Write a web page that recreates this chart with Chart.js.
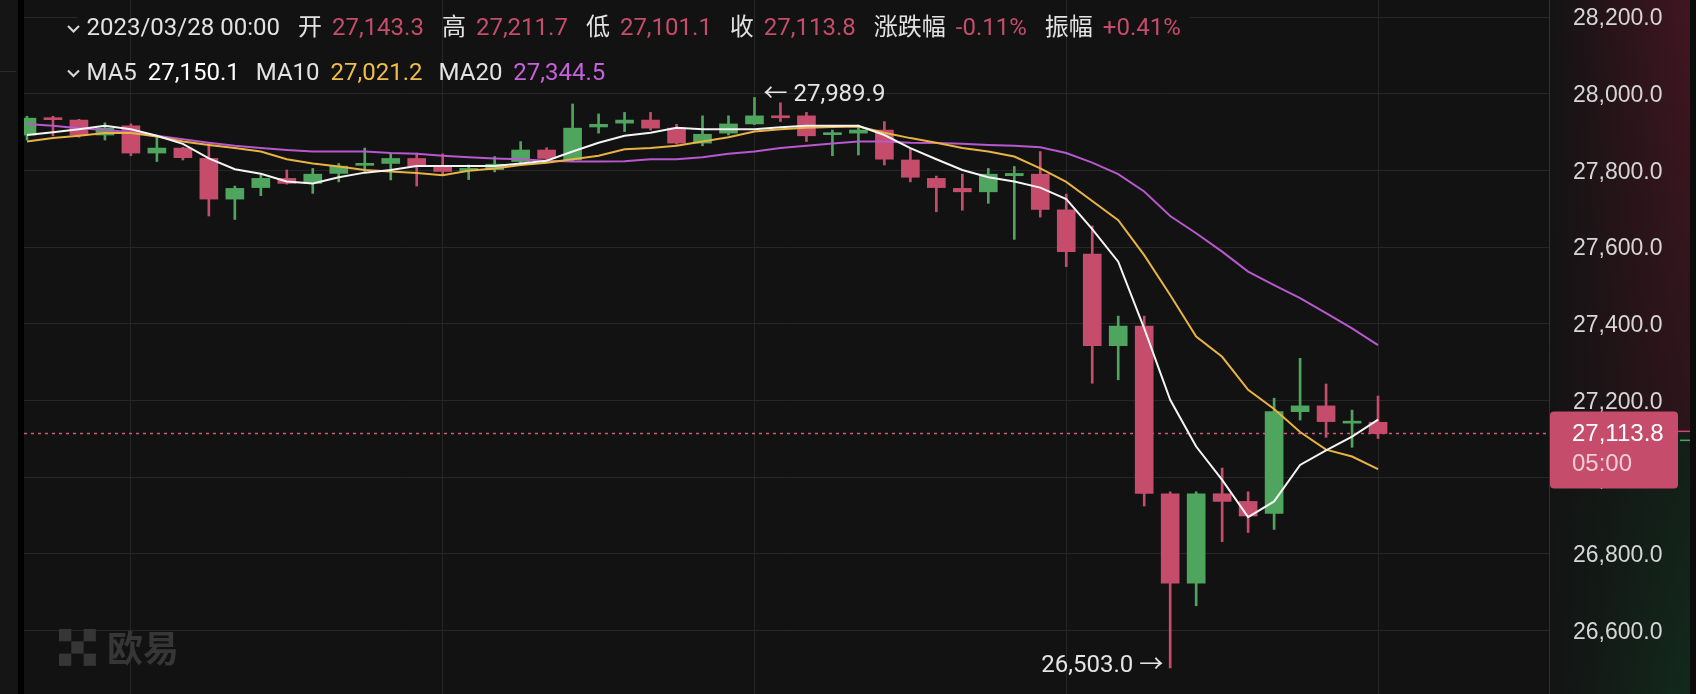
<!DOCTYPE html>
<html lang="zh-CN">
<head>
<meta charset="UTF-8">
<title>BTC 4H K线</title>
<script src="https://cdn.jsdelivr.net/npm/chart.js@4"></script>
<style>
  html, body { margin: 0; padding: 0; background: #121212; }
  canvas { display: block; }
</style>
</head>
<body>
<canvas id="kline" width="1696" height="694"></canvas>
<script>
// 4h candles, oldest -> newest
const opens = [27892, 27937, 27931, 27892, 27916, 27845, 27858, 27831, 27725, 27755,
  27779, 27766, 27792, 27813, 27818, 27831, 27811, 27799, 27802, 27823,
  27853, 27827, 27913, 27923, 27931, 27910, 27871, 27897, 27921, 27942,
  27942, 27893, 27897, 27905, 27827, 27779, 27753, 27744, 27786, 27790,
  27697, 27582, 27343, 27394, 26957, 26724, 26957, 26937, 26906, 27171,
  27186, 27141, 27143.3];
const highs = [27941, 27941, 27933, 27924, 27921, 27886, 27860, 27870, 27759, 27788,
  27801, 27805, 27818, 27858, 27845, 27845, 27843, 27814, 27836, 27875,
  27859, 27973, 27947, 27951, 27951, 27920, 27942, 27942, 27989.9, 27976,
  27951, 27905, 27918, 27927, 27855, 27785, 27790, 27805, 27810, 27849,
  27738, 27655, 27420, 27420, 26962, 26962, 27024, 26962, 27206, 27310,
  27243, 27175, 27211.7];
const lows = [27879, 27890, 27886, 27879, 27838, 27823, 27827, 27681, 27672, 27734,
  27764, 27740, 27770, 27797, 27775, 27759, 27788, 27776, 27796, 27820,
  27823, 27825, 27897, 27901, 27905, 27868, 27864, 27892, 27919, 27927,
  27875, 27838, 27840, 27814, 27770, 27692, 27696, 27714, 27620, 27678,
  27549, 27245, 27254, 26925, 26503, 26665, 26832, 26856, 26864, 27149,
  27104, 27078, 27101.1];
const closes = [27936, 27932, 27892, 27910, 27845, 27858, 27833, 27725, 27753, 27779,
  27766, 27790, 27811, 27816, 27831, 27811, 27797, 27805, 27816, 27853,
  27831, 27910, 27920, 27931, 27910, 27871, 27894, 27921, 27942, 27937,
  27890, 27897, 27905, 27829, 27782, 27755, 27744, 27790, 27792, 27698,
  27588, 27343, 27394, 26958, 26724, 26957, 26937, 26899, 27171, 27186,
  27145, 27145, 27113.8];

// moving averages
const ma5 = [27892, 27899, 27907, 27916, 27907, 27890, 27869, 27831, 27803, 27791,
  27771, 27766, 27782, 27794, 27801, 27811, 27811, 27811, 27811, 27818,
  27825, 27849, 27872, 27890, 27898, 27911, 27907, 27907, 27907, 27912,
  27916, 27916, 27916, 27892, 27858, 27829, 27801, 27782, 27771, 27755,
  27725, 27647, 27562, 27388, 27202, 27080, 26993, 26896, 26937, 27032,
  27070, 27106, 27150.1];
const ma10 = [27875, 27884, 27890, 27897, 27897, 27888, 27875, 27866, 27858, 27849,
  27829, 27818, 27810, 27801, 27797, 27793, 27787, 27799, 27805, 27814,
  27820, 27829, 27838, 27855, 27858, 27864, 27875, 27886, 27901, 27907,
  27911, 27913, 27914, 27898, 27884, 27872, 27858, 27849, 27836, 27805,
  27770, 27720, 27670, 27579, 27475, 27367, 27314, 27228, 27178, 27118,
  27072, 27054, 27021.2];
const ma20 = [27921, 27916, 27910, 27905, 27899, 27890, 27881, 27872, 27864, 27858,
  27853, 27849, 27849, 27849, 27845, 27843, 27838, 27834, 27831, 27829,
  27825, 27823, 27823, 27824, 27829, 27829, 27834, 27843, 27849, 27858,
  27864, 27870, 27875, 27875, 27872, 27871, 27869, 27866, 27864, 27860,
  27845, 27820, 27790, 27745, 27681, 27636, 27588, 27536, 27501, 27467,
  27428, 27388, 27344.5];

const priceTicks = [26600, 26800, 27000, 27200, 27400, 27600, 27800, 28000, 28200];
const timeGrid = [4, 16, 28, 40, 52];   // candle index of each vertical grid line
const lastPrice = 27113.8;
const countdown = '05:00';

const headerDate = '2023/03/28 00:00';
const headerItems = [['开', '27,143.3'], ['高', '27,211.7'], ['低', '27,101.1'],
  ['收', '27,113.8'], ['涨跌幅', '-0.11%'], ['振幅', '+0.41%']];
const maItems = [['MA5', '27,150.1'], ['MA10', '27,021.2'], ['MA20', '27,344.5']];

const RED = '#c54c6b';
const GREEN = '#4fa45e';
const MA_COLORS = ['#f4f4f4', '#e8b342', '#b758cf'];
const MA_TEXT = ['#ffffff', '#f0bd46', '#c462da'];
const GRID = '#262626';
const UI_FONT = 'Roboto, "Noto Sans CJK SC", sans-serif';
const AXIS_FONT = '"Liberation Sans", Arial, sans-serif';

const idx = opens.map((_, i) => i);
const colors = idx.map(i => closes[i] >= opens[i] ? GREEN : RED);
const fmt = v => v.toLocaleString('en-US', {minimumFractionDigits: 1, maximumFractionDigits: 1});

const hiIdx = highs.indexOf(Math.max(...highs));
const loIdx = lows.indexOf(Math.min(...lows));

function chevron(ctx, x, y) {
  ctx.beginPath();
  ctx.moveTo(x - 5.5, y - 3);
  ctx.lineTo(x, y + 2.5);
  ctx.lineTo(x + 5.5, y - 3);
  ctx.lineWidth = 2.2;
  ctx.strokeStyle = '#d4d4d4';
  ctx.stroke();
}

const backdrop = {
  id: 'backdrop',
  beforeDraw(chart) {
    const {ctx, width, height, chartArea: a} = chart;
    const py = chart.scales.y.getPixelForValue(lastPrice);
    ctx.save();
    ctx.fillStyle = '#121212';
    ctx.fillRect(0, 0, width, height);
    ctx.fillStyle = '#151515';
    ctx.fillRect(0, 0, 18, height);
    ctx.fillStyle = '#000';
    ctx.fillRect(18, 0, a.left - 18, height);
    ctx.fillStyle = '#2a2a2a';
    ctx.fillRect(0, 71, 16, 1);

    // red above last price, green below, fading towards the plot
    let g = ctx.createLinearGradient(0, 0, 0, py);
    g.addColorStop(0, 'rgba(130,26,55,0.42)');
    g.addColorStop(1, 'rgba(120,26,50,0.26)');
    ctx.fillStyle = g;
    ctx.fillRect(a.right, 0, width - a.right, py);
    g = ctx.createLinearGradient(0, py, 0, height);
    g.addColorStop(0, 'rgba(20,100,55,0.16)');
    g.addColorStop(1, 'rgba(20,110,60,0.26)');
    ctx.fillStyle = g;
    ctx.fillRect(a.right, py, width - a.right, height - py);
    g = ctx.createLinearGradient(a.right, 0, width - 6, 0);
    g.addColorStop(0, 'rgba(19,19,19,1)');
    g.addColorStop(0.25, 'rgba(19,19,19,0.75)');
    g.addColorStop(1, 'rgba(19,19,19,0)');
    ctx.fillStyle = g;
    ctx.fillRect(a.right, 0, width - a.right, height);
    ctx.fillStyle = '#0b0b0b';
    ctx.fillRect(width - 6, 0, 6, height);
    ctx.restore();
  },
  beforeDatasetsDraw(chart) {
    const {ctx, chartArea: a, scales} = chart;
    ctx.save();
    // top grid line is interrupted by the header row
    const ty = Math.round(scales.y.getPixelForValue(28200)) + 0.5;
    ctx.strokeStyle = GRID;
    ctx.lineWidth = 1;
    ctx.beginPath();
    ctx.moveTo(a.left, ty); ctx.lineTo(78, ty);
    ctx.moveTo(1190, ty); ctx.lineTo(a.right, ty);
    ctx.stroke();
    // last price, dotted
    const py = scales.y.getPixelForValue(lastPrice);
    ctx.setLineDash([3, 4]);
    ctx.strokeStyle = '#cf5c79';
    ctx.lineWidth = 1.5;
    ctx.beginPath();
    ctx.moveTo(a.left, py); ctx.lineTo(a.right, py);
    ctx.stroke();
    ctx.restore();
  }
};

const overlay = {
  id: 'overlay',
  afterDraw(chart) {
    const {ctx, scales, chartArea: a} = chart;
    const xs = scales.x, ys = scales.y;
    ctx.save();

    // high / low markers
    ctx.font = '24px ' + UI_FONT;
    ctx.fillStyle = '#e4e4e4';
    ctx.textBaseline = 'middle';
    ctx.textAlign = 'left';
    ctx.fillText('← ' + fmt(highs[hiIdx]), xs.getPixelForValue(hiIdx) + 9, ys.getPixelForValue(highs[hiIdx]) - 2);
    ctx.textAlign = 'right';
    ctx.fillText(fmt(lows[loIdx]) + ' →', xs.getPixelForValue(loIdx) - 7, ys.getPixelForValue(lows[loIdx]) - 2);

    // header rows
    ctx.textAlign = 'left';
    chevron(ctx, 73.5, 29);
    chevron(ctx, 73.5, 73.5);
    let x = 86.5;
    ctx.fillStyle = '#e2e2e2';
    ctx.fillText(headerDate, x, 29);
    x += ctx.measureText(headerDate).width + 18;
    headerItems.forEach(([label, value]) => {
      ctx.fillStyle = '#e2e2e2';
      ctx.fillText(label, x, 29);
      x += ctx.measureText(label).width + 10;
      ctx.fillStyle = RED;
      ctx.fillText(value, x, 29);
      x += ctx.measureText(value).width + 18;
    });
    x = 86.5;
    maItems.forEach(([label, value], k) => {
      ctx.fillStyle = '#e2e2e2';
      ctx.fillText(label, x, 73.5);
      x += ctx.measureText(label).width + 11;
      ctx.fillStyle = MA_TEXT[k];
      ctx.fillText(value, x, 73.5);
      x += ctx.measureText(value).width + 16;
    });

    // watermark
    ctx.fillStyle = '#363636';
    [[0, 0], [2, 0], [1, 1], [0, 2], [2, 2]].forEach(([c, r]) => {
      ctx.fillRect(59 + c * 12.3, 629 + r * 12.3, 12.3, 12.3);
    });
    ctx.font = 'bold 36px "Noto Sans CJK SC", sans-serif';
    ctx.fillText('欧易', 107, 648);

    // last price tag
    const py = ys.getPixelForValue(lastPrice);
    ctx.fillStyle = RED;
    ctx.beginPath();
    ctx.roundRect(a.right + 1, py - 22, 128, 77, 4);
    ctx.fill();
    ctx.fillRect(1678, py - 3, 12, 1.5);
    ctx.fillStyle = GREEN;
    ctx.fillRect(1680, py + 6, 10, 1.5);
    ctx.font = '24px ' + AXIS_FONT;
    ctx.fillStyle = '#ffffff';
    ctx.fillText(fmt(lastPrice), 1572, py + 1);
    ctx.fillStyle = 'rgba(255,255,255,0.72)';
    ctx.fillText(countdown, 1572, py + 31);
    ctx.restore();
  }
};

const maSet = (data, k) => ({
  type: 'line',
  data: idx.map(i => ({x: i, y: data[i]})),
  borderColor: MA_COLORS[k],
  borderWidth: 2,
  pointRadius: 0,
  tension: 0,
  order: k
});

new Chart(document.getElementById('kline'), {
  type: 'bar',
  data: {
    datasets: [
      maSet(ma5, 0),
      maSet(ma10, 1),
      maSet(ma20, 2),
      {
        label: 'body',
        data: idx.map(i => ({x: i, y: [Math.min(opens[i], closes[i]), Math.max(opens[i], closes[i])]})),
        backgroundColor: colors,
        barThickness: 18,
        minBarLength: 2,
        grouped: false,
        order: 3
      },
      {
        label: 'wick',
        data: idx.map(i => ({x: i, y: [lows[i], highs[i]]})),
        backgroundColor: colors,
        barThickness: 2,
        grouped: false,
        order: 4
      }
    ]
  },
  options: {
    responsive: false,
    devicePixelRatio: 1,
    animation: false,
    events: [],
    layout: {autoPadding: false, padding: {left: 24, right: 0, top: 0, bottom: 0}},
    plugins: {legend: {display: false}, tooltip: {enabled: false}},
    scales: {
      x: {
        type: 'linear',
        min: -0.115,
        max: 58.58,
        offset: false,
        afterBuildTicks: s => { s.ticks = timeGrid.map(v => ({value: v})); },
        afterFit: s => { s.height = 0; s.paddingLeft = 0; s.paddingRight = 0; },
        grid: {color: GRID, drawTicks: false, offset: false},
        border: {display: false},
        ticks: {display: false}
      },
      y: {
        position: 'right',
        min: 26435,
        max: 28244,
        afterBuildTicks: s => { s.ticks = priceTicks.map(v => ({value: v})); },
        afterFit: s => { s.width = 147; s.paddingTop = 0; s.paddingBottom = 0; },
        grid: {
          color: c => (c.tick && c.tick.value === 28200) ? 'rgba(0,0,0,0)' : GRID,
          drawTicks: false
        },
        border: {display: true, color: '#303030'},
        ticks: {
          color: '#d6d6d6',
          padding: 24,
          labelOffset: 2,
          font: {family: AXIS_FONT, size: 23},
          callback: v => fmt(v)
        }
      }
    }
  },
  plugins: [backdrop, overlay]
});
</script>
</body>
</html>
